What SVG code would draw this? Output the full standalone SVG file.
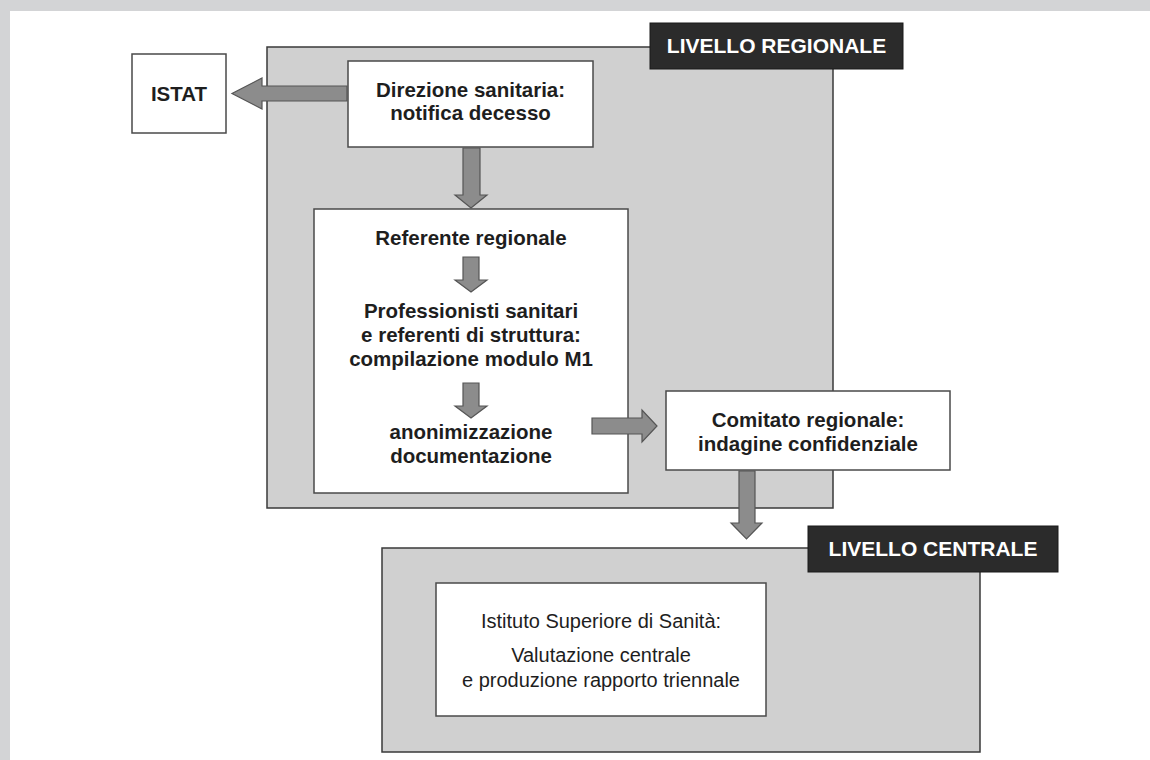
<svg xmlns="http://www.w3.org/2000/svg" width="1150" height="760" viewBox="0 0 1150 760">
<style>
.level{fill:#d0d0d0;stroke:#3a3a3a;stroke-width:1.5}
.box{fill:#ffffff;stroke:#4a4a4a;stroke-width:1.5}
.tag{fill:#2b2b2b;stroke:#1a1a1a;stroke-width:1}
.arrow{fill:#8c8c8c;stroke:#555555;stroke-width:1.2;stroke-linejoin:miter}
.t{font-family:"Liberation Sans",Arial,sans-serif;font-size:20.5px;font-weight:bold;fill:#1e1e1e;text-anchor:middle}
.tn{font-family:"Liberation Sans",Arial,sans-serif;font-size:20px;fill:#1e1e1e;text-anchor:middle}
.tw{font-family:"Liberation Sans",Arial,sans-serif;font-size:21px;font-weight:bold;fill:#ffffff;text-anchor:middle}
</style>
<rect x="0" y="0" width="1150" height="760" fill="#d3d4d6"/>
<rect x="10" y="11" width="1140" height="749" fill="#ffffff"/>

<g id="regional-level">
<rect class="level" x="267" y="47" width="566" height="461"/>
<rect class="tag" x="650" y="23" width="253" height="46"/>
<text class="tw" x="776.5" y="53">LIVELLO REGIONALE</text>
</g>

<g id="central-level">
<rect class="level" x="382" y="548" width="598" height="204"/>
<rect class="tag" x="808" y="526" width="250" height="46"/>
<text class="tw" x="933" y="556">LIVELLO CENTRALE</text>
</g>

<g id="istat">
<rect class="box" x="132" y="54" width="94" height="79"/>
<text class="t" x="179" y="101">ISTAT</text>
</g>

<g id="direzione">
<rect class="box" x="348" y="61" width="245" height="86"/>
<text class="t" x="470.5" y="97">Direzione sanitaria:</text>
<text class="t" x="470.5" y="120">notifica decesso</text>
</g>

<g id="regional-process">
<rect class="box" x="314" y="209" width="314" height="284"/>
<text class="t" x="471" y="245">Referente regionale</text>
<text class="t" x="471" y="318">Professionisti sanitari</text>
<text class="t" x="471" y="342">e referenti di struttura:</text>
<text class="t" x="471" y="366">compilazione modulo M1</text>
<text class="t" x="471" y="439">anonimizzazione</text>
<text class="t" x="471" y="463">documentazione</text>
</g>

<g id="comitato">
<rect class="box" x="666" y="391" width="284" height="79"/>
<text class="t" x="808" y="427">Comitato regionale:</text>
<text class="t" x="808" y="451">indagine confidenziale</text>
</g>

<g id="iss">
<rect class="box" x="436" y="583" width="330" height="133"/>
<text class="tn" x="601" y="628">Istituto Superiore di Sanità:</text>
<text class="tn" x="601" y="662">Valutazione centrale</text>
<text class="tn" x="601" y="687">e produzione rapporto triennale</text>
</g>

<g id="connectors">
<path class="arrow" d="M347,86 L262,86 L262,78 L232,93.5 L262,109 L262,101 L347,101 Z"/>
<path class="arrow" d="M463,148 L480,148 L480,195 L487,195 L471,208 L455,195 L463,195 Z"/>
<path class="arrow" d="M463,257 L479,257 L479,280 L487,280 L471,292 L455,280 L463,280 Z"/>
<path class="arrow" d="M463,383 L479,383 L479,406 L487,406 L471,418 L455,406 L463,406 Z"/>
<path class="arrow" d="M592,418 L642,418 L642,410 L657,426 L642,442 L642,434 L592,434 Z"/>
<path class="arrow" d="M739,471 L755,471 L755,523 L762,523 L746.5,539 L731,523 L739,523 Z"/>
</g>
</svg>
